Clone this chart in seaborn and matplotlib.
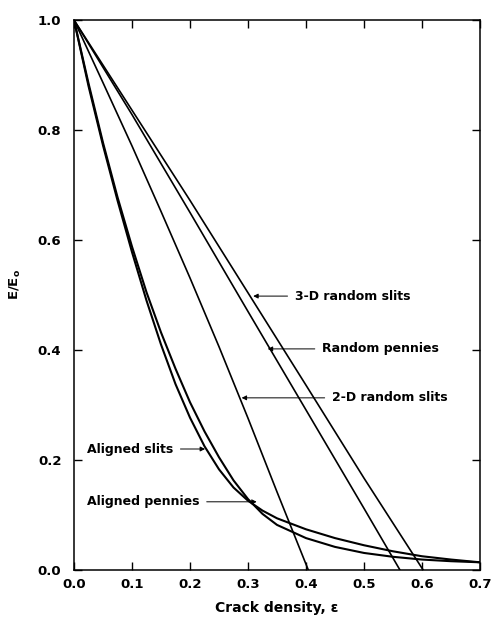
import matplotlib
matplotlib.use("Agg")
import matplotlib.pyplot as plt
import seaborn as sns
import pandas as pd

# ---- data ----
eps_3d_slits = [0.0, 0.1, 0.2, 0.3, 0.4, 0.5, 0.602]
E_3d_slits = [1.0, 0.836, 0.672, 0.504, 0.336, 0.167, 0.0]

eps_pennies = [0.0, 0.1, 0.2, 0.3, 0.4, 0.5, 0.562]
E_pennies = [1.0, 0.828, 0.650, 0.470, 0.291, 0.112, 0.0]

eps_2d_slits = [0.0, 0.05, 0.1, 0.15, 0.2, 0.25, 0.3, 0.35, 0.404]
E_2d_slits = [1.0, 0.886, 0.771, 0.652, 0.531, 0.406, 0.276, 0.142, 0.0]

eps_aligned = [0.0, 0.025, 0.05, 0.075, 0.1, 0.125, 0.15, 0.175, 0.2, 0.225,
               0.25, 0.275, 0.3, 0.325, 0.35, 0.4, 0.45, 0.5, 0.55, 0.6, 0.65, 0.7]
E_aligned_slits = [1.000, 0.880, 0.772, 0.672, 0.578, 0.490, 0.410, 0.338, 0.277, 0.225,
                   0.183, 0.150, 0.126, 0.108, 0.094, 0.074, 0.058, 0.045, 0.034, 0.025,
                   0.019, 0.014]
E_aligned_pennies = [1.000, 0.885, 0.777, 0.678, 0.588, 0.505, 0.432, 0.366, 0.305, 0.252,
                     0.205, 0.163, 0.129, 0.102, 0.082, 0.058, 0.042, 0.031, 0.024, 0.019,
                     0.016, 0.014]

labels = ["3-D random slits", "Random pennies", "2-D random slits",
          "Aligned slits", "Aligned pennies"]
# arrow target points (on curves) and text anchor points, in data units
arrow_eps = [0.309, 0.334, 0.289, 0.226, 0.315]
arrow_E = [0.498, 0.402, 0.313, 0.220, 0.124]
text_eps = [0.381, 0.428, 0.445, 0.022, 0.022]
text_E = [0.498, 0.402, 0.313, 0.220, 0.124]

x_ticks = [0.0, 0.1, 0.2, 0.3, 0.4, 0.5, 0.6, 0.7]
y_ticks = [0.0, 0.2, 0.4, 0.6, 0.8, 1.0]

sns.set_style("ticks")
plt.rcParams['font.family'] = ['DejaVu Sans']
plt.rcParams['font.weight'] = 'bold'
plt.rcParams['axes.labelweight'] = 'bold'
plt.rcParams['text.color'] = 'black'
plt.rcParams['axes.labelcolor'] = 'black'
plt.rcParams['xtick.color'] = 'black'
plt.rcParams['ytick.color'] = 'black'

fig = plt.figure(figsize=(4.93, 6.19), dpi=100)
ax = fig.add_axes([74/493, 1 - 570/619, (480-74)/493, (570-20)/619])

curves = [
    (eps_3d_slits, E_3d_slits, 1.2),
    (eps_pennies, E_pennies, 1.2),
    (eps_2d_slits, E_2d_slits, 1.2),
    (eps_aligned, E_aligned_slits, 1.5),
    (eps_aligned, E_aligned_pennies, 1.5),
]
for xs, ys, lw in curves:
    df = pd.DataFrame({"eps": xs, "E": ys})
    sns.lineplot(data=df, x="eps", y="E", ax=ax, color="black", lw=lw,
                 estimator=None, sort=False)

for lab, ax_, ay_, tx, ty in zip(labels, arrow_eps, arrow_E, text_eps, text_E):
    ax.annotate(lab, xy=(ax_, ay_), xytext=(tx, ty), textcoords="data",
                ha="left", va="center", fontsize=9, fontweight="bold", color="black",
                arrowprops=dict(arrowstyle="-|>", color="black", lw=0.7,
                                mutation_scale=7, shrinkA=3, shrinkB=0))

ax.set_xlim(0, 0.7)
ax.set_ylim(0, 1.0)
ax.set_xticks(x_ticks)
ax.set_yticks(y_ticks)
ax.set_xticklabels([f"{v:.1f}" for v in x_ticks], fontsize=9.5, fontweight="bold")
ax.set_yticklabels([f"{v:.1f}" for v in y_ticks], fontsize=9.5, fontweight="bold")
ax.tick_params(direction="in", length=6, width=1, top=True, right=True,
               labeltop=False, labelright=False, color="black", labelcolor="black")
ax.tick_params(axis="x", pad=6)
ax.tick_params(axis="y", pad=9)
for s in ax.spines.values():
    s.set_visible(True)
    s.set_linewidth(1.1)
    s.set_color("black")

ax.set_xlabel("Crack density, ε", fontsize=10, fontweight="bold", color="black")
ax.set_ylabel("E/E$_\\mathbf{o}$", fontsize=9.5, fontweight="bold", color="black")
ax.xaxis.set_label_coords(0.5, -0.056)
ax.yaxis.set_label_coords(-0.125, 0.52)

fig.savefig("out.png", dpi=100)
